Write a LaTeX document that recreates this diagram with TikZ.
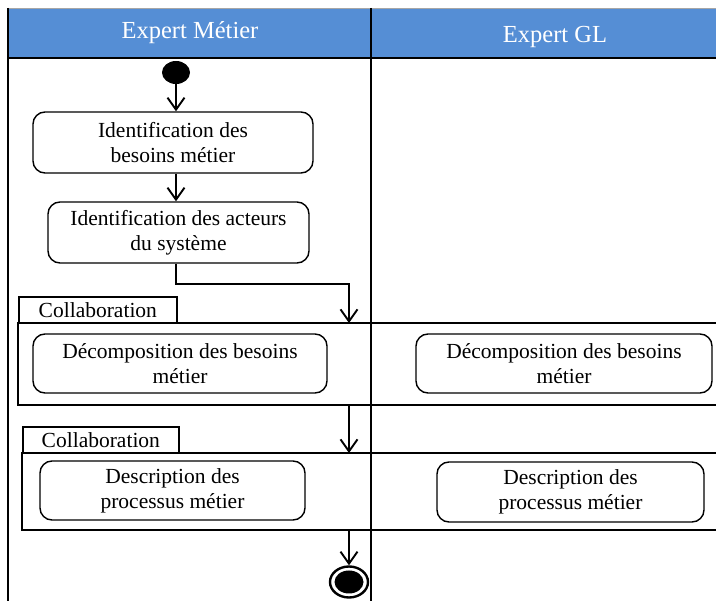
\documentclass[tikz,border=0pt]{standalone}
\usepackage{fontspec}
\setmainfont{Liberation Serif}
\usetikzlibrary{arrows.meta,shapes.geometric}
\definecolor{laneblue}{RGB}{85,142,213}

\tikzset{
  lanetitle/.style={text=white, font=\fontsize{24.5}{29}\selectfont, inner sep=0pt},
  activity/.style={draw, line width=1.4pt, rounded corners=12pt, align=center,
    font=\fontsize{21.5}{25}\selectfont, inner sep=0pt},
  tabbox/.style={draw, line width=1.7pt, font=\fontsize{21.5}{25}\selectfont,
    inner sep=0pt, anchor=west},
  frame/.style={line width=1.7pt},
  flow/.style={line width=1.9pt, -{Straight Barb[length=12pt,width=17pt,line width=1.9pt]}},
  initialnode/.style={ellipse, fill=black, minimum width=28, minimum height=23, inner sep=0pt},
  finalnode/.style={ellipse, draw, line width=2.4pt, minimum width=38, minimum height=31, inner sep=0pt},
}

\begin{document}
\begin{tikzpicture}[x=1pt,y=-1pt]
\useasboundingbox (0,0) rectangle (716,601);

% swimlane headers
\fill[laneblue] (8,8) rectangle (716,58);
\draw[gray!70, line width=0.8pt] (8,8) -- (716,8);
\node[lanetitle] (laneA) at (190,33) {Expert Métier};
\node[lanetitle] (laneB) at (555,37) {Expert GL};

% lane borders
\draw[frame] (8,8) -- (8,601);
\draw[frame] (371,8) -- (371,601);
\draw[frame] (8,58) -- (716,58);

% initial node
\node[initialnode] (start) at (176,72.5) {};

% Expert Métier activities
\node[activity, minimum width=280, minimum height=61] (besoins) at (173,142.5)
  {Identification des\\besoins métier};
\node[activity, minimum width=261, minimum height=61] (acteurs) at (178.5,232.5)
  {Identification des acteurs\\du système};

% first collaboration region
\node[tabbox, minimum width=158, minimum height=26] (tabA) at (18,310)
  {Collaboration};
\draw[frame, fill=white] (716,323) -- (18,323) -- (18,405) -- (716,405);
\draw[frame] (371,323) -- (371,405);
\node[activity, minimum width=294, minimum height=59] (decompA) at (180,363.5)
  {Décomposition des besoins\\métier};
\node[activity, minimum width=296, minimum height=59] (decompB) at (564,363.5)
  {Décomposition des besoins\\métier};
\coordinate (regAtop) at (349,323);
\coordinate (regAbot) at (349,405);

% second collaboration region
\node[tabbox, minimum width=156, minimum height=26] (tabB) at (22,440)
  {Collaboration};
\draw[frame] (716,453) -- (22,453) -- (22,530) -- (716,530);
\node[activity, minimum width=265, minimum height=59] (descA) at (172.5,490.5)
  {Description des\\processus métier};
\node[activity, minimum width=267, minimum height=60] (descB) at (570.5,492)
  {Description des\\processus métier};
\coordinate (regBtop) at (349,453);
\coordinate (regBbot) at (349,530);

% final node
\node[finalnode] (final) at (349,582) {};
\fill (final.center) ellipse [x radius=14.5, y radius=11.5];

% control flow
\draw[flow] (start.south) -- (besoins.north -| start);
\draw[flow] (besoins.south -| start) -- (acteurs.north -| start);
\draw[flow] (acteurs.south -| start) -- ++(0,20) -| (regAtop);
\draw[flow] (regAbot) -- (regBtop);
\draw[flow] (regBbot) -- (final.north);
\end{tikzpicture}
\end{document}
